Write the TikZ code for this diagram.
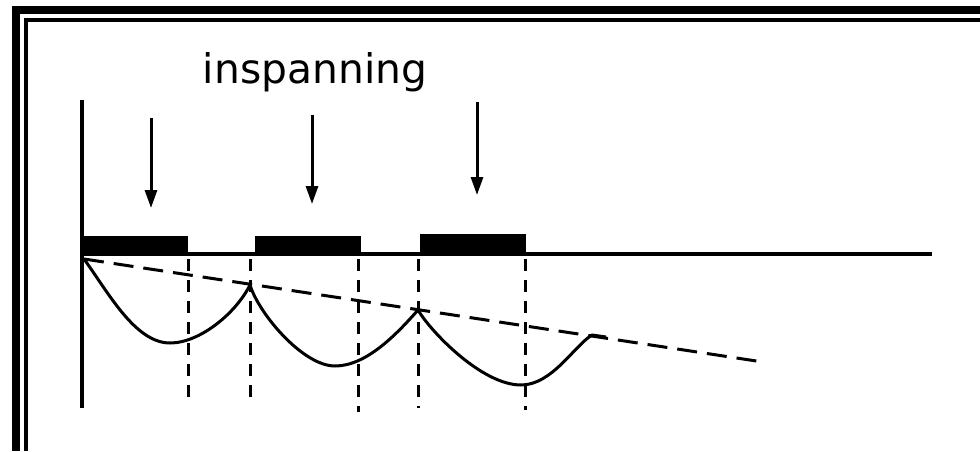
\documentclass[tikz,border=0pt]{standalone}
\usepackage{fontspec}
\newfontfamily\labelfont{DejaVu Sans}
\usetikzlibrary{arrows.meta}
\begin{document}
\begin{tikzpicture}[x=0.5pt,y=-0.5pt,
  band/.style={fill=black},
  beam/.style={line width=1.8pt},
  load/.style={line width=1.5pt,-{Triangle[length=9pt,width=6pt]}},
  sagline/.style={line width=1.5pt,line join=round},
  chord/.style={line width=1.5pt,dash pattern=on 10pt off 5pt},
  guide/.style={line width=1.5pt,dash pattern=on 6pt off 4.5pt},
  title/.style={font=\labelfont\fontsize{20.4}{24}\selectfont,inner sep=0pt}]
\useasboundingbox (0,0) rectangle (980,451);

% double frame along top and left
\fill[band] (12,6) rectangle (20,451);
\fill[band] (12,6) rectangle (980,14);
\fill[band] (24,18) rectangle (28,451);
\fill[band] (24,18) rectangle (980,22);

% caption
\node[title,anchor=base] (cap) at (315,83) {inspanning};

% key points
\coordinate (top) at (82,100);
\coordinate (foot) at (82,408);
\coordinate (b0) at (82,254);
\coordinate (b1) at (932,254);
\coordinate (s0) at (84,259);
\coordinate (s1) at (250,285);
\coordinate (s2) at (418,310);
\coordinate (s3) at (592,335);
\coordinate (s3r) at (606,337);
\coordinate (e) at (763,362);

% support line and beam
\draw[beam] (top) -- (foot);
\draw[beam] (b0) -- (b1);
\fill[band] (82,236) rectangle (188,256);
\fill[band] (255,236) rectangle (361,256);
\fill[band] (420,234) rectangle (526,256);

% prestress loads
\coordinate (l1a) at (151,118); \coordinate (l1b) at (151,208);
\coordinate (l2a) at (312,115); \coordinate (l2b) at (312,204);
\coordinate (l3a) at (477,102); \coordinate (l3b) at (477,195);
\draw[load] (l1a) -- (l1b);
\draw[load] (l2a) -- (l2b);
\draw[load] (l3a) -- (l3b);

% vertical guide lines
\foreach \x/\y in {188/400, 250/405, 358/412, 418/408, 525/410}
  \draw[guide] (\x,259) -- (\x,\y);

% chord of the deflections
\draw[chord] (s0) -- (e);

% deflected shape between the joints
\draw[sagline] (s0) .. controls (108,292) and (135,343) .. (170,343)
  .. controls (200,343) and (236,313) .. (s1);
\draw[sagline] (s1) .. controls (259,314) and (303,366) .. (335,366)
  .. controls (366,366) and (396,335) .. (s2);
\draw[sagline] (s2) .. controls (431,332) and (482,385) .. (521,385)
  .. controls (552,385) and (574,346) .. (s3) -- (s3r);
\end{tikzpicture}
\end{document}
